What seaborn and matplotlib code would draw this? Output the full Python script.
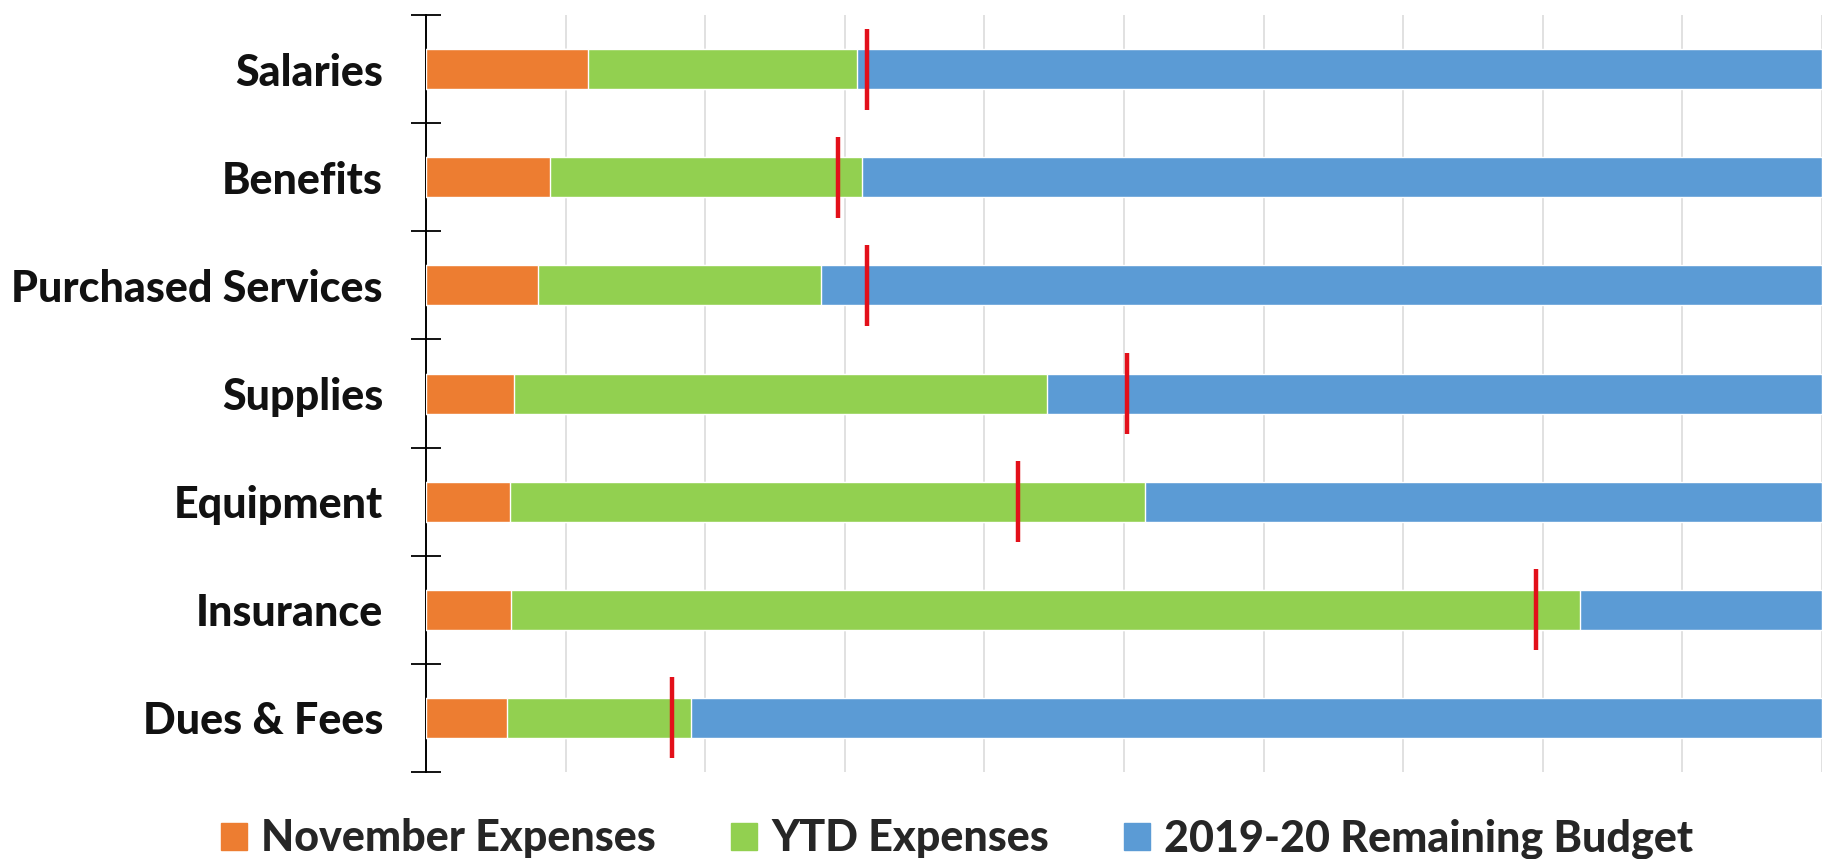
import matplotlib
matplotlib.use("Agg")
import matplotlib.pyplot as plt
import seaborn as sns
import numpy as np
import pandas as pd
from matplotlib.patches import Patch

categories = ["Salaries", "Benefits", "Purchased Services", "Supplies",
              "Equipment", "Insurance", "Dues & Fees"]
november_expenses = [11.6, 8.9, 8.0, 6.3, 6.0, 6.1, 5.8]
ytd_expenses = [19.3, 22.3, 20.3, 38.2, 45.5, 76.6, 13.2]
budget_total = [100, 100, 100, 100, 100, 100, 100]
target_marker = [31.6, 29.5, 31.6, 50.2, 42.4, 79.5, 17.6]

c_orange = "#ED7D31"
c_green = "#92D050"
c_blue = "#5B9BD5"
c_red = "#E3101A"

sns.set_theme(style="white")
plt.rcParams["font.family"] = ["Lato", "DejaVu Sans"]

fig = plt.figure(figsize=(18.23, 8.59), dpi=100)
ax = fig.add_axes([0.2337, 0.1013, 0.7657, 0.8812])

df = pd.DataFrame({
    "category": categories,
    "nov": november_expenses,
    "ytd_end": np.array(november_expenses) + np.array(ytd_expenses),
    "total": budget_total,
})

bw = 0.37
sns.barplot(data=df, x="total", y="category", orient="h", color=c_blue,
            width=bw, ax=ax, saturation=1, zorder=2)
sns.barplot(data=df, x="ytd_end", y="category", orient="h", color=c_green,
            width=bw, ax=ax, saturation=1, zorder=3)
sns.barplot(data=df, x="nov", y="category", orient="h", color=c_orange,
            width=bw, ax=ax, saturation=1, zorder=4)

ypos = np.arange(len(categories))
ax.vlines(target_marker, ypos - 0.375, ypos + 0.375, colors=c_red,
          linewidth=3.2, zorder=6)

ax.set_xlim(0, 100)
ax.set_ylim(len(categories) - 0.5, -0.5)
ax.set_xticks(np.arange(0, 101, 10))
ax.set_xticklabels([])
ax.xaxis.grid(True, color="#D9D9D9", linewidth=1.1, zorder=0)
ax.yaxis.grid(False)
ax.set_axisbelow(True)
ax.tick_params(axis="x", length=0)

ax.set_yticks(ypos)
ax.set_yticklabels(categories, fontsize=31, fontweight="black", color="#111111")
ax.set_yticks(np.arange(-0.5, len(categories)), minor=True)
ax.tick_params(axis="y", which="major", length=0, pad=31)
ax.tick_params(axis="y", which="minor", length=22, width=1.3,
               direction="inout", color="black", left=True)

for s in ["top", "right", "bottom"]:
    ax.spines[s].set_visible(False)
ax.spines["left"].set_color("black")
ax.spines["left"].set_linewidth(1.4)
ax.set_xlabel("")
ax.set_ylabel("")

handles = [Patch(color=c_orange, label="November Expenses"),
           Patch(color=c_green, label="YTD Expenses"),
           Patch(color=c_blue, label="2019-20 Remaining Budget")]
fig.legend(handles=handles, loc="lower center", bbox_to_anchor=(0.525, -0.045),
           ncol=3, frameon=False, handlelength=0.6, handleheight=0.6,
           handletextpad=0.33, columnspacing=1.75,
           prop={"family": ["Lato", "DejaVu Sans"], "weight": "black", "size": 31})

fig.savefig("out.png", dpi=100)
